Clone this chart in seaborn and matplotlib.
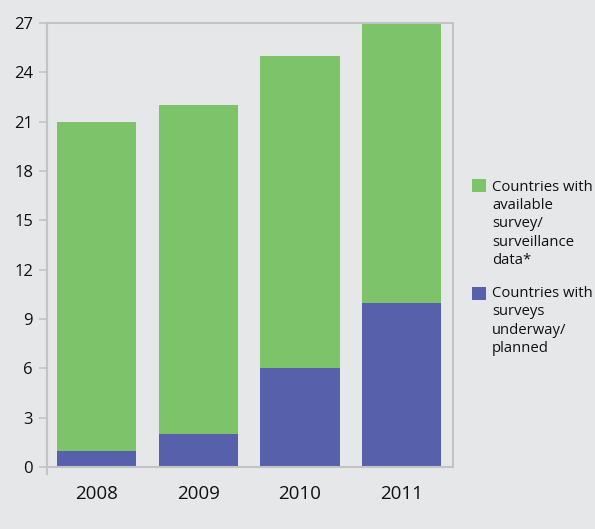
import matplotlib
matplotlib.use("Agg")
import matplotlib.pyplot as plt
import seaborn as sns
import pandas as pd
from matplotlib.patches import Rectangle

years = ["2008", "2009", "2010", "2011"]
available = [20, 20, 19, 17]
underway = [1, 2, 6, 10]
yticks = [0, 3, 6, 9, 12, 15, 18, 21, 24, 27]
labels = ["Countries with\navailable\nsurvey/\nsurveillance\ndata*",
          "Countries with\nsurveys\nunderway/\nplanned"]

green = "#7dc36a"
purple = "#5660ab"
bg = "#e6e7e9"
frame = "#c2c3c5"
ink = "#111111"

sns.set_theme(style="white")
plt.rcParams["font.family"] = ["Open Sans", "DejaVu Sans"]

df = pd.DataFrame({"year": years, "available": available, "underway": underway})
df["total"] = df["available"] + df["underway"]

W, H = 595, 529
fig = plt.figure(figsize=(W / 100, H / 100), dpi=100, facecolor=bg)
ax = fig.add_axes([47 / W, 1 - 467 / H, 406 / W, 444 / H])
ax.set_facecolor(bg)

sns.barplot(data=df, x="year", y="total", color=green, width=0.78,
            saturation=1, linewidth=0, edgecolor="none", ax=ax)
sns.barplot(data=df, x="year", y="underway", color=purple, width=0.78,
            saturation=1, linewidth=0, edgecolor="none", ax=ax)

ax.set_xlim(-0.487, 3.506)
ax.set_ylim(0, 27)
ax.set_yticks(yticks)
ax.set_xlabel("")
ax.set_ylabel("")
for s in ax.spines.values():
    s.set_color(frame)
    s.set_linewidth(1.5)
ax.spines["left"].set_bounds(-0.4, 27)
ax.spines["left"].set_clip_on(False)
ax.tick_params(axis="y", which="both", left=True, length=6, width=1.2,
               color=frame, labelsize=12, labelcolor=ink, pad=4)
ax.tick_params(axis="x", bottom=False, labelsize=13.5, labelcolor=ink, pad=7)

# legend: swatch aligned with the first line of each label
# (square top, baseline of the label's last line)
entries = [(green, 179, 264), (purple, 287, 352)]
for (col, sq_top, last_base), lab in zip(entries, labels):
    fig.patches.append(Rectangle((472 / W, 1 - (sq_top + 13) / H), 14 / W, 13 / H,
                                 transform=fig.transFigure, facecolor=col,
                                 edgecolor="none"))
    fig.text(492 / W, 1 - last_base / H, lab, ha="left", va="baseline",
             fontsize=10.7, color=ink, linespacing=1.3)

fig.savefig("out.png", dpi=100, facecolor=bg)
